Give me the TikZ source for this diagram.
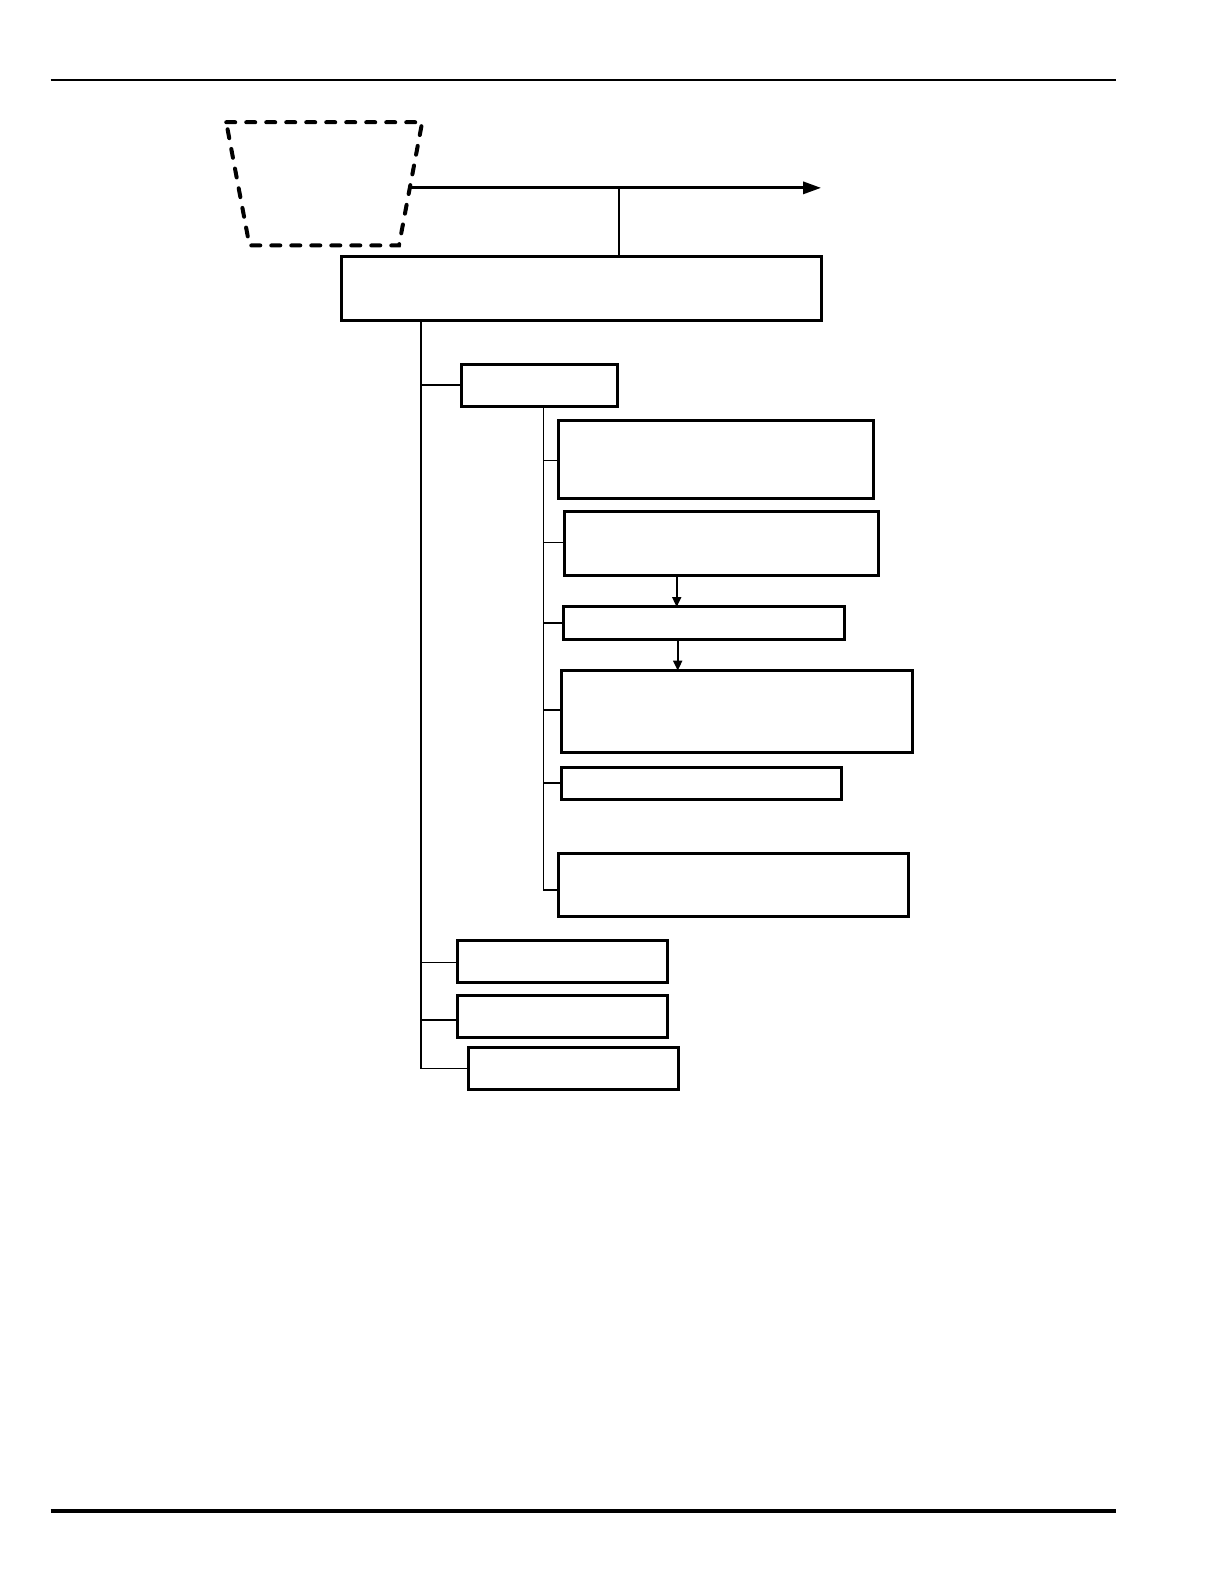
\documentclass[tikz,border=0pt]{standalone}
\usetikzlibrary{arrows.meta}
\begin{document}
\begin{tikzpicture}[x=0.505pt, y=-0.505pt,
    box/.style={draw, rectangle, line width=1.5pt, inner sep=0pt},
    link/.style={line width=0.8pt},
    flow/.style={line width=0.9pt, -{Triangle[length=5pt, width=4.5pt]}}]
    \useasboundingbox (0pt,0pt) rectangle (612pt,-792pt);

    % --- Page rules ---
    \coordinate (topL) at (50,79);
    \coordinate (topR) at (1105,79);
    \coordinate (botL) at (50,1496);
    \coordinate (botR) at (1105,1496);
    \draw[line width=1pt] (topL) -- (topR);
    \draw[line width=2pt] (botL) -- (botR);

    % --- Source (dashed) and main output arrow ---
    \coordinate (srcNW) at (224,121);
    \coordinate (srcNE) at (418,121);
    \coordinate (srcSE) at (395,243);
    \coordinate (srcSW) at (247,243);
    \draw[line width=2pt, line cap=round, dash pattern=on 4.5pt off 5.5pt]
        (srcNW) -- (srcNE) -- (srcSE) -- (srcSW) -- cycle;
    \coordinate (src) at (407,186);
    \coordinate (out) at (813,186);
    \coordinate (tap) at (613,186);
    \draw[line width=1.5pt, -{Triangle[length=9pt, width=6pt]}] (src) -- (out);

    % --- Main box ---
    \node[box, minimum width=239.9pt, minimum height=31.8pt] (main) at (575.5,285.5) {};
    \draw[link] (tap) -- (tap |- main.north);

    % --- First level ---
    \node[box, minimum width=77.8pt, minimum height=20.7pt] (grp) at (534,381.5) {};
    \node[box, minimum width=105pt, minimum height=21.2pt] (lowA) at (557,952) {};
    \node[box, minimum width=105pt, minimum height=20.7pt] (lowB) at (557,1006.5) {};
    \node[box, minimum width=105pt, minimum height=21.2pt] (lowC) at (568,1058) {};

    \coordinate (trunk) at (417,317);
    \draw[link] (trunk) -- (trunk |- lowC.west) -- (lowC.west);
    \draw[link] (417,381) -- (grp.west |- 417,381);
    \draw[link] (417,953) -- (lowA.west |- 417,953);
    \draw[link] (417,1010) -- (lowB.west |- 417,1010);

    % --- Second level ---
    \node[box, minimum width=157.6pt, minimum height=39.4pt] (stepA) at (709,455) {};
    \node[box, minimum width=157.1pt, minimum height=32.3pt] (stepB) at (714.5,538) {};
    \node[box, minimum width=140.4pt, minimum height=16.2pt] (stepC) at (697,617) {};
    \node[box, minimum width=175.2pt, minimum height=40.9pt] (stepD) at (729.5,704.5) {};
    \node[box, minimum width=139.9pt, minimum height=16.2pt] (stepE) at (694.5,776) {};
    \node[box, minimum width=175.2pt, minimum height=31.3pt] (stepF) at (726.5,876) {};

    \coordinate (subtrunk) at (538,402);
    \coordinate (subend) at (538,881);
    \draw[link] (subtrunk) -- (subend) -- (stepF.west |- subend);
    \draw[link] (538,456) -- (stepA.west |- 538,456);
    \draw[link] (538,537) -- (stepB.west |- 538,537);
    \draw[link] (538,617) -- (stepC.west |- 538,617);
    \draw[link] (538,703) -- (stepD.west |- 538,703);
    \draw[link] (538,775) -- (stepE.west |- 538,775);

    % --- Sequence arrows ---
    \draw[flow] (670,570) -- (670,601);
    \draw[flow] (671,633) -- (671,664);
\end{tikzpicture}
\end{document}
